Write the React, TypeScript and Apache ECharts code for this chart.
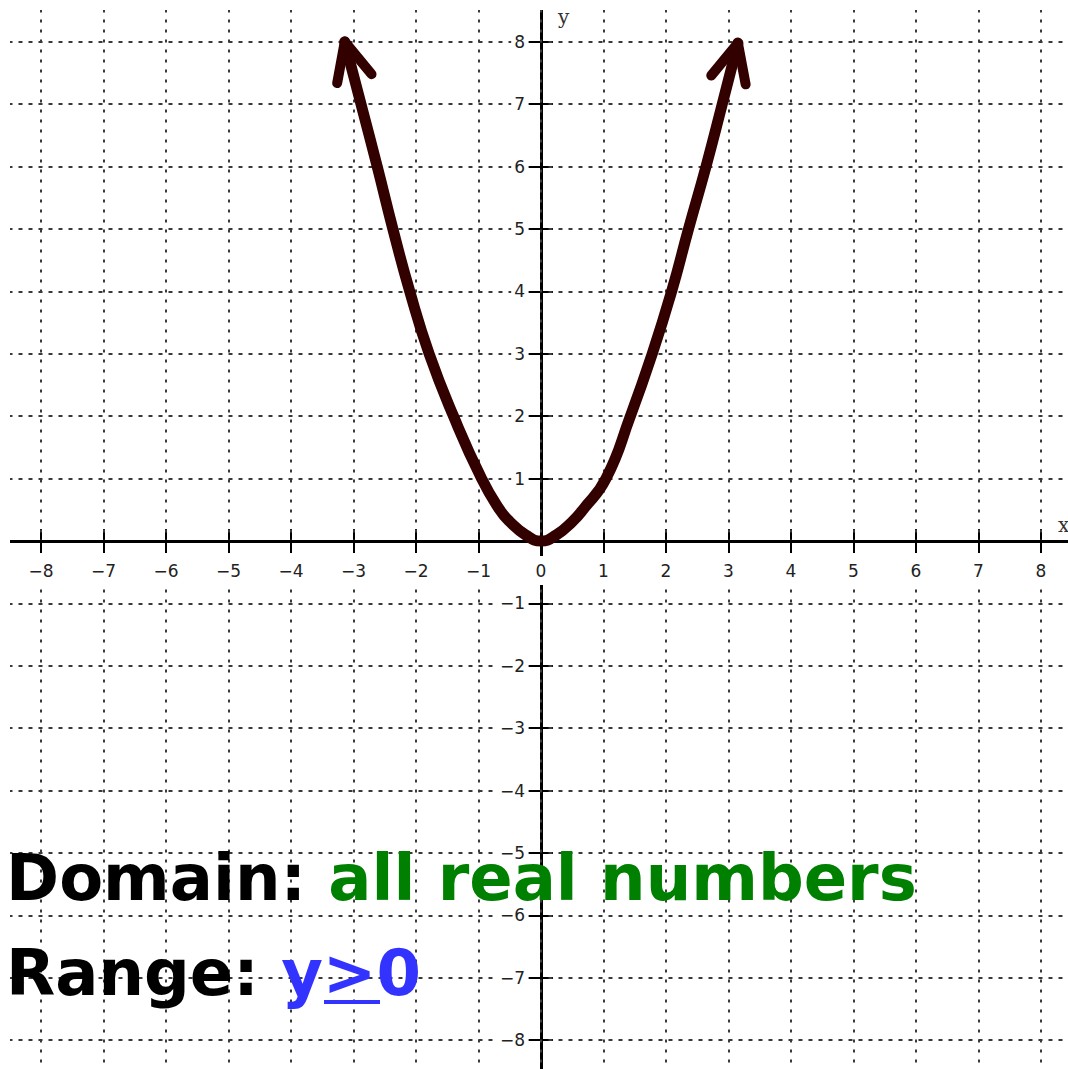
import React, { useEffect, useRef } from 'react';
import * as echarts from 'echarts';

// Curve points (x, y)
const curveX = [-3.14, -2.88, -2.62, -2.37, -2.1, -1.79, -1.4, -0.95, -0.66, -0.5, -0.25, 0, 0.25, 0.5, 0.67, 1.04, 1.43, 1.78, 2.09, 2.36, 2.64, 2.9, 3.15];
const curveY = [8, 7, 6, 5, 4, 3, 2, 1, 0.5, 0.31, 0.1, 0, 0.1, 0.31, 0.5, 1, 2, 3, 4, 5, 6, 7, 7.98];

// Axis extents and ticks
const axisMin = -9;
const axisMax = 9;
const tickStep = 1;

// Texts
const axisNameX = 'x';
const axisNameY = 'y';
const domainLabel = 'Domain: ';
const domainValue = 'all real numbers';
const rangeLabel = 'Range: ';
const rangeValue = ['y', '>', '0'];

const CURVE_COLOR = '#330000';
const GRID_COLOR = '#3a3a3a';

const fmt = (v: number) => (v < 0 ? '\u2212' + Math.abs(v) : String(v));

export default function App() {
  const ref = useRef<HTMLDivElement>(null);

  useEffect(() => {
    document.body.style.margin = '0';
    const chart = echarts.init(ref.current!, undefined, { renderer: 'svg' });

    // grid placement: origin of the plane sits at pixel (541, 541)
    const unitX = 62.5;
    const unitY = 62.4;
    const originPx = 541;
    const gLeft = originPx - (0 - axisMin) * unitX;
    const gWidth = (axisMax - axisMin) * unitX;
    const gTop = originPx - (axisMax - 0) * unitY;
    const gHeight = (axisMax - axisMin) * unitY;
    const gRight = gLeft + gWidth;
    const gBottom = gTop + gHeight;
    const offBottom = originPx - gBottom; // negative: move inwards
    const offTop = gTop - originPx;
    const offLeft = gLeft - originPx;
    const offRight = originPx - gRight;

    const data = curveX.map((x, i) => [x, curveY[i]]);
    const tickStyle = { color: '#000', width: 2 };
    const lineStyle = { color: '#000', width: 3 };

    chart.setOption({
      animation: false,
      backgroundColor: '#ffffff',
      textStyle: { fontFamily: 'DejaVu Sans' },
      grid: {
        left: gLeft,
        top: gTop,
        width: gWidth,
        height: gHeight,
        containLabel: false,
        outerBoundsMode: 'none',
      },
      xAxis: [
        {
          type: 'value',
          min: axisMin,
          max: axisMax,
          interval: tickStep,
          position: 'bottom',
          offset: offBottom,
          z: 3,
          axisLine: { show: true, onZero: false, lineStyle },
          axisTick: { show: true, inside: false, length: 12, lineStyle: tickStyle },
          axisLabel: {
            show: true,
            showMinLabel: false,
            showMaxLabel: false,
            margin: 15,
            formatter: fmt,
            fontSize: 17,
            lineHeight: 17,
            color: '#222',
            fontFamily: 'DejaVu Sans',
            backgroundColor: '#ffffff',
            padding: [6, 3, 6, 3],
          },
          splitLine: { show: true, lineStyle: { color: GRID_COLOR, width: 2, type: [3, 7] } },
        },
        {
          type: 'value',
          min: axisMin,
          max: axisMax,
          interval: tickStep,
          position: 'top',
          offset: offTop,
          z: 0,
          axisLine: { show: false, onZero: false },
          axisTick: { show: true, inside: false, length: 12, lineStyle: tickStyle },
          axisLabel: { show: false },
          splitLine: { show: false },
        },
      ],
      yAxis: [
        {
          type: 'value',
          min: axisMin,
          max: axisMax,
          interval: tickStep,
          position: 'left',
          offset: offLeft,
          z: 1,
          axisLine: { show: true, onZero: false, lineStyle },
          axisTick: { show: true, inside: false, length: 12, lineStyle: tickStyle },
          axisLabel: {
            show: true,
            showMinLabel: false,
            showMaxLabel: false,
            margin: 14,
            formatter: (v: number) => (v === 0 ? '' : fmt(v)),
            fontSize: 17,
            lineHeight: 17,
            color: '#222',
            fontFamily: 'DejaVu Sans',
            backgroundColor: '#ffffff',
            padding: [0, 2, 0, 3],
          },
          splitLine: { show: true, lineStyle: { color: GRID_COLOR, width: 2, type: [4, 6] } },
        },
        {
          type: 'value',
          min: axisMin,
          max: axisMax,
          interval: tickStep,
          position: 'right',
          offset: offRight,
          z: 0,
          axisLine: { show: false, onZero: false },
          axisTick: { show: true, inside: false, length: 12, lineStyle: tickStyle },
          axisLabel: { show: false },
          splitLine: { show: false },
        },
      ],
      series: [
        {
          type: 'line',
          xAxisIndex: 0,
          yAxisIndex: 0,
          data,
          smooth: 0.5,
          symbol: 'none',
          z: 5,
          lineStyle: { color: CURVE_COLOR, width: 11, cap: 'round', join: 'round' },
        },
      ],
    });

    const toPx = (i: number) =>
      chart.convertToPixel({ xAxisIndex: 0, yAxisIndex: 0 }, [curveX[i], curveY[i]]) as number[];

    const arrow = (tipIdx: number, refIdx: number) => {
      const tip = toPx(tipIdx);
      const r = toPx(refIdx);
      const ang = Math.atan2(r[1] - tip[1], r[0] - tip[0]);
      const L = 42;
      const spread = (25 * Math.PI) / 180;
      const p1 = [tip[0] + L * Math.cos(ang - spread), tip[1] + L * Math.sin(ang - spread)];
      const p2 = [tip[0] + L * Math.cos(ang + spread), tip[1] + L * Math.sin(ang + spread)];
      return {
        type: 'polyline',
        z: 60,
        shape: { points: [p1, tip, p2] },
        style: { stroke: CURVE_COLOR, lineWidth: 10, lineCap: 'round', lineJoin: 'round', fill: null },
      };
    };

    const n = curveX.length;
    const bold = { fontFamily: 'DejaVu Sans', fontWeight: 'bold', fontSize: 64, lineHeight: 64 };

    chart.setOption({
      graphic: [
        { type: 'rect', z: 50, shape: { x: 0, y: 0, width: 10, height: 1069 }, style: { fill: '#ffffff' } },
        { type: 'rect', z: 50, shape: { x: 0, y: 0, width: 1068, height: 10 }, style: { fill: '#ffffff' } },
        arrow(0, 1),
        arrow(n - 1, n - 2),
        {
          type: 'text',
          z: 70,
          x: 558,
          y: 17,
          style: { text: axisNameY, fontFamily: 'DejaVu Serif', fontSize: 20, fill: '#333', verticalAlign: 'middle', align: 'left' },
        },
        {
          type: 'text',
          z: 70,
          x: 1058,
          y: 525,
          style: { text: axisNameX, fontFamily: 'DejaVu Serif', fontSize: 20, fill: '#333', verticalAlign: 'middle', align: 'left' },
        },
        {
          type: 'text',
          z: 80,
          x: 6,
          y: 878,
          style: {
            text: `{k|${domainLabel}}{g|${domainValue}}`,
            verticalAlign: 'middle',
            align: 'left',
            rich: {
              k: { ...bold, fill: '#000000', color: '#000000' },
              g: { ...bold, fill: '#008000', color: '#008000' },
            },
          },
        },
        {
          type: 'text',
          z: 80,
          x: 6,
          y: 973,
          style: {
            text: `{k|${rangeLabel}}{b|${rangeValue.join('')}}`,
            verticalAlign: 'middle',
            align: 'left',
            rich: {
              k: { ...bold, fill: '#000000', color: '#000000' },
              b: { ...bold, fill: '#3333ff', color: '#3333ff' },
            },
          },
        },
        { type: 'rect', z: 80, shape: { x: 324, y: 1000, width: 56, height: 4 }, style: { fill: '#3333ff' } },
      ],
    });

    return () => chart.dispose();
  }, []);

  return <div ref={ref} style={{ position: 'absolute', left: 0, top: 0, width: 1068, height: 1069 }} />;
}
